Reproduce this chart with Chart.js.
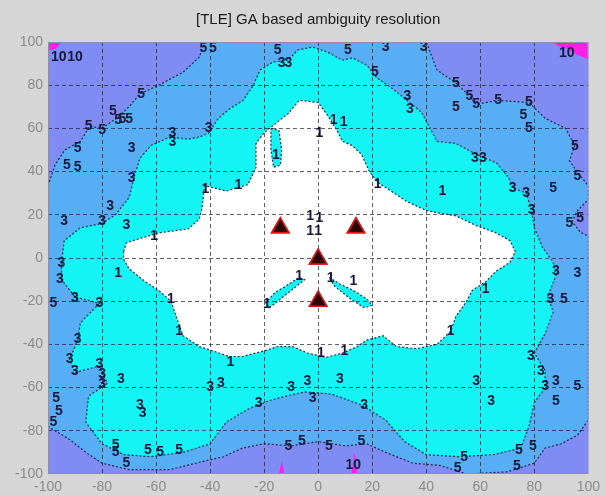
<!DOCTYPE html>
<html><head><meta charset="utf-8">
<script src="https://cdn.jsdelivr.net/npm/chart.js@4.4.1/dist/chart.umd.min.js"></script>
<style>html,body{margin:0;padding:0;background:#d6d6d6;}</style>
</head><body>
<canvas id="c" width="605" height="495"></canvas>
<script>
const chartTitle = '[TLE] GA based ambiguity resolution';
const axisMin = -100, axisMax = 100, axisStep = 20;

// contour level boundaries (data units)
const level5Contour = [[-100,33.5],[-97.4,43],[-93.8,50],[-88,54],[-84.6,61],[-80,60],[-74.7,64.7],[-70,70],[-66,76],[-59,80],[-50,86],[-44,93],[-42,100],[40,100],[44,87],[51,81],[56,75],[58.5,71],[66,73],[78,72],[84,64.7],[91.6,60],[95,52],[93,45],[97,38],[100,33.5],[100,27],[96,22],[94,17],[97,12],[100,10],[100,-75],[96,-82],[90,-86],[84,-88],[80,-95],[70,-99],[55,-100],[45,-96],[35,-95],[25,-90],[18,-86],[10,-87],[0,-85],[-10,-87],[-20,-86],[-28,-88],[-35,-92],[-42,-94],[-55,-98],[-70,-98],[-80,-95],[-86,-90],[-92,-84],[-100,-78]];
const level3Contour = [[-95,-2],[-94,8],[-88,14],[-80,16],[-75,20],[-70,28],[-68,38],[-66,46],[-62,52],[-55,56],[-48,55],[-44,56],[-40.6,57.7],[-36.9,64.7],[-32.5,69.3],[-27.7,73],[-24,80],[-21.5,87],[-16.7,90.7],[-11.2,91.6],[-7.5,96.3],[-2,97.7],[3.5,95.3],[9,91.6],[12.7,92.6],[18,89.3],[21.8,83.3],[27.3,78.6],[32.8,73],[38.3,67.4],[44,54],[51,53],[58.5,48],[66,44],[70.6,37],[72,32.5],[77,30],[79,22],[80,14],[83,5],[87,-2],[88,-8],[85,-18],[87,-25],[84,-35],[80,-44],[84,-52],[84,-60],[80,-67],[78,-78],[75,-88],[65,-91],[52,-92],[40,-91],[32,-85],[25,-75],[16,-68],[5,-63],[-5,-62],[-12,-64],[-18,-66],[-26,-70],[-34,-76],[-40,-86],[-50,-90],[-62,-92],[-72,-91],[-80,-86],[-86,-76],[-85,-64],[-78,-58],[-81,-50],[-90,-53],[-92,-47],[-89,-38],[-88,-30],[-81,-21],[-90,-18],[-95,-10]];
const level1Contour = [[-72,3],[-71,7],[-66,9],[-59,11.6],[-48,13.5],[-44,18],[-43,23],[-42,33.5],[-34,31],[-26,34],[-23,42],[-23,53],[-20,58],[-14,64],[-11,67],[-7,73],[0,72],[3.5,66],[7,59],[9,54],[12.7,52],[16,48],[19,40],[22,35],[27,31],[33,26],[40,22],[44,21],[51,19.5],[58.5,15],[66,11.6],[71,8],[73,3],[71,-2],[66,-6],[62,-11],[57,-15],[55,-20],[51,-27],[49,-34],[44,-40],[36.5,-42],[29,-41],[24,-36],[18,-38],[14.5,-41],[9,-44],[3,-46],[-4,-44],[-9.4,-41],[-15,-41],[-20,-43],[-28,-45.6],[-33,-45.6],[-39,-43],[-44,-41],[-50,-36],[-52,-29],[-54.5,-20],[-59,-15],[-64,-11],[-70,-5],[-72,-0.5]];
const level3IslandA = [[-19.6,-21],[-16,-16],[-12,-13],[-7,-9],[-5,-10],[-10,-15],[-15,-20],[-18,-23]];
const level3IslandB = [[4,-9],[8,-12],[13,-15],[18,-19],[20,-22],[17,-23],[12,-19],[6,-13]];
const level3IslandC = [[-17.5,60],[-14.5,59],[-13.5,50],[-14,43],[-16.5,42],[-17.5,50]];
const level10CornerA = [[-100,100],[-95,100],[-97,97],[-100,96]];
const level10CornerB = [[87,100],[100,100],[100,92],[96,94],[92,97],[89,98]];
const level10SpotA = [[-14.5,-100],[-13.5,-94],[-12.5,-100]];
const level10SpotB = [[12.3,-100],[13.5,-90],[14.5,-100]];

// reference stations (triangles)
const stationX = [-14, 14, 0, 0];
const stationY = [14, 14, -0.5, -20];

// contour labels
const labelText = ['10','10','5','5','5','3','3','5','3','3','5','3','3','1','1','1',
 '5','5','5','5','5','5','5','5','5','5','5','5','5','10','3','3','3','3','3','1','1',
 '5','5','5','5','5','5','5','5','5','5','3','3','3','3','3','3','3','3','3','1','1','1','1','1',
 '3','3','5','3','3','3','3','3','3','3','3','3','3','3','5','5','5','5',
 '5','5','5','5','5','5','5','5','5','10','5','5','5','5','5',
 '1','1','1','1','1','1','1','1','1','1','1','1','1','1','1',
 '3','3','3','3','3','3','3','3','3','3','3','3','3','3','5','5','3','3','3','5'];
const labelX = [-96,-90,-42.5,-39,-15,-13.5,-11,11,25,39,21,33,34,0.5,5.7,9.4,
 51,56,58.5,51,66.6,78,76,78,95,96,87,97,93,92,58,61,72,77,79,46,22,
 -65.5,-76,-74,-72.5,-70,-85,-80,-89,-93,-89,-69,-69,-77,-80,-71,-94,-54,-54,-40.5,-15.6,-41.7,-29.5,-60.7,-74,
 -95,-95.6,-98,-90,-81,-89,-92,-90,-81,-80,-80,-73,-66,-65,-97,-96,-98,-75,
 -75,-71,-63,-58.5,-51.5,-11,-6,4,16,13,54,51.6,73.6,74.3,79.5,
 -3,0.5,-3,0,-7,4.6,13,-19,-54.5,-51.5,-32.5,1,9.7,49,62,
 -22,-10,-4,-2,8,17,-36,-40,58.5,64,78.7,82.4,84,88,96,88,88,96,86,91];
const labelY = [93,93,97,97,96,90,90,96,97.5,97.5,86,75,69,58,63.7,62.8,
 81,75,71,70,73,72,66,60,52,38,32.5,18.6,16,95,46,46,32.5,30,22,31,34,
 76,68,64,64.5,64.5,61,59,51,43,42,51,37,24,17,15,17,58,53.5,60,47.4,32,33.5,10,-7,
 -2.3,-10,-21,-18.6,-21,-37.7,-47,-52.6,-49,-54,-58.6,-56,-68,-72,-65,-71,-76,-86.5,
 -90,-95,-89,-90,-89,-87,-85,-87,-85,-96,-92,-97.5,-96.5,-89,-87,
 19.5,18.6,12.6,12.6,-8.4,-9.3,-10.7,-21.4,-19,-34,-48,-44,-43,-34,-14.4,
 -67,-60,-57,-65,-56,-68,-58,-60,-57,-66.5,-45.6,-52.6,-59.5,-57,-59.5,-66.5,-6,-7,-19,-19];

const colPurple = '#7e8cf4', colBlue = '#58aef4', colCyan = '#14f4f4', colWhite = '#ffffff', colMagenta = '#ff1ee6';

function closedPoly(pairs){ const p = pairs.map(([x,y])=>({x,y})); p.push({x:pairs[0][0], y:pairs[0][1]}); return p; }
function region(pairs, color, order, edge){
  return {data: closedPoly(pairs), showLine:true, fill:'shape', backgroundColor:color,
    borderColor: edge ? 'rgba(20,25,60,0.9)' : 'rgba(0,0,0,0)', borderWidth:1.2, borderDash:[2,2],
    pointRadius:0, tension:0, order:order};
}

const bgPlugin = {
  id:'plotBg',
  beforeDatasetsDraw(chart){
    const a = chart.chartArea, ctx = chart.ctx;
    ctx.save(); ctx.fillStyle = colPurple; ctx.fillRect(a.left, a.top, a.right-a.left, a.bottom-a.top); ctx.restore();
  },
  afterDraw(chart){
    const ctx = chart.ctx, a = chart.chartArea, xs = chart.scales.x, ys = chart.scales.y;
    chart.getDatasetMeta(0).controller.draw();
    ctx.save();
    ctx.beginPath(); ctx.rect(a.left, a.top, a.right-a.left, a.bottom-a.top); ctx.clip();
    ctx.font = 'bold 14px "Liberation Sans"';
    ctx.textAlign = 'center'; ctx.textBaseline = 'middle'; ctx.fillStyle = '#17173a';
    for (let i=0;i<labelText.length;i++){
      ctx.fillText(labelText[i], xs.getPixelForValue(labelX[i]), ys.getPixelForValue(labelY[i]));
    }
    ctx.restore();
    ctx.save(); ctx.strokeStyle = '#8d90a8'; ctx.lineWidth = 1;
    ctx.strokeRect(a.left+0.5, a.top+0.5, a.right-a.left-1, a.bottom-a.top-1); ctx.restore();
  }
};

const gridColor = (c) => (c.tick && (c.tick.value === axisMin || c.tick.value === axisMax)) ? 'rgba(0,0,0,0)' : 'rgba(30,30,45,0.7)';
const tickFont = {family:'Liberation Sans', size:14};

new Chart(document.getElementById('c'), {
  type:'scatter',
  data:{datasets:[
    {data: stationX.map((x,i)=>({x, y:stationY[i]})), pointStyle:'triangle', pointRadius:10,
      backgroundColor:'#2a0606', borderColor:'#e01414', borderWidth:1.5, order:0},
    region(level3IslandA, colCyan, 1, true),
    region(level3IslandB, colCyan, 1, true),
    region(level3IslandC, colCyan, 1, true),
    region(level10CornerA, colMagenta, 1, false),
    region(level10CornerB, colMagenta, 1, false),
    region(level10SpotA, colMagenta, 1, false),
    region(level10SpotB, colMagenta, 1, false),
    region(level1Contour, colWhite, 2, true),
    region(level3Contour, colCyan, 3, true),
    region(level5Contour, colBlue, 4, true)
  ]},
  options:{
    responsive:false, animation:false, devicePixelRatio:1,
    layout:{padding:{left:0, right:12, top:0, bottom:0}},
    plugins:{
      legend:{display:false}, tooltip:{enabled:false},
      title:{display:true, fullSize:false, text:chartTitle, color:'#1a1a1a', font:{family:'Liberation Sans', size:15, weight:'normal'}, padding:{top:11, bottom:13}}
    },
    scales:{
      x:{type:'linear', min:axisMin, max:axisMax,
        ticks:{stepSize:axisStep, color:'#8a8a8a', font:tickFont, padding:5, maxRotation:0, autoSkip:false},
        grid:{color:gridColor, drawTicks:false, lineWidth:1, z:1},
        border:{display:false, dash:[4,3]},
        afterFit(s){ s.height = 21; }},
      y:{type:'linear', min:axisMin, max:axisMax,
        ticks:{stepSize:axisStep, color:'#8a8a8a', font:tickFont, padding:5, autoSkip:false},
        grid:{color:gridColor, drawTicks:false, lineWidth:1, z:1},
        border:{display:false, dash:[4,3]},
        afterFit(s){ s.width = 48; }}
    }
  },
  plugins:[bgPlugin]
});
</script>
</body></html>
